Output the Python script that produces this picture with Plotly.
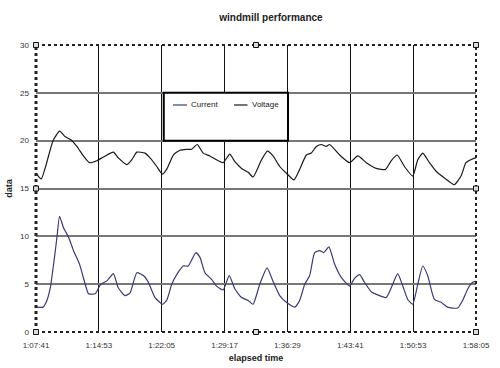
import plotly.graph_objects as go

# elapsed seconds since 1:07:41
voltage_t = [0, 36, 117, 162, 201, 240, 281, 326, 368, 418, 464, 532, 566, 624, 658, 693,
             749, 784, 830, 868, 898, 944, 989, 1035, 1070, 1108, 1149, 1195, 1241, 1286,
             1332, 1367, 1413, 1458, 1492, 1550, 1591, 1629, 1675, 1721, 1773, 1812, 1858,
             1892, 1927, 1961, 1995, 2018, 2087, 2155, 2212, 2270, 2338, 2402, 2441, 2482,
             2532, 2589, 2624, 2658, 2704, 2750, 2807, 2875, 2921, 2955, 3001, 3024]
voltage_v = [16.6, 16.0, 20.0, 21.0, 20.4, 20.1, 19.4, 18.4, 17.7, 17.9, 18.3, 18.8, 18.2,
             17.5, 18.0, 18.8, 18.7, 18.2, 17.3, 16.5, 17.0, 18.5, 19.0, 19.1, 19.1, 19.6,
             18.7, 18.4, 18.0, 17.7, 18.6, 17.8, 17.1, 16.7, 16.2, 18.0, 18.9, 18.4, 17.3,
             16.6, 15.9, 17.0, 18.5, 18.7, 19.4, 19.6, 19.4, 19.6, 18.5, 17.7, 18.4, 17.7,
             17.1, 17.0, 17.9, 18.5, 17.3, 16.3, 18.0, 18.7, 17.7, 16.8, 16.1, 15.4, 16.3,
             17.7, 18.1, 18.2]

current_t = [0, 48, 75, 98, 121, 144, 162, 189, 224, 258, 299, 338, 361, 407, 441, 491, 532,
             566, 612, 647, 693, 738, 772, 818, 871, 898, 933, 967, 1012, 1046, 1099, 1127,
             1161, 1207, 1241, 1286, 1328, 1367, 1413, 1458, 1492, 1538, 1588, 1629, 1675,
             1721, 1778, 1812, 1847, 1881, 1915, 1950, 1977, 2013, 2052, 2098, 2155, 2189,
             2224, 2258, 2304, 2361, 2407, 2441, 2486, 2521, 2555, 2589, 2624, 2658, 2692,
             2738, 2784, 2829, 2898, 2932, 2967, 3001, 3024]
current_v = [2.6, 2.6, 3.3, 4.6, 7.1, 9.9, 12.1, 10.9, 9.9, 8.5, 7.1, 5.0, 4.0, 4.0, 4.9, 5.4,
             6.1, 4.6, 3.8, 4.1, 6.2, 5.9, 5.2, 3.6, 2.9, 3.3, 5.0, 6.0, 6.9, 6.9, 8.3, 7.8,
             6.2, 5.5, 4.8, 4.4, 5.9, 4.5, 3.6, 3.3, 2.9, 5.0, 6.7, 5.3, 3.8, 3.1, 2.6, 3.3,
             5.0, 5.9, 8.3, 8.5, 8.3, 8.9, 7.1, 5.7, 4.8, 5.6, 6.0, 5.2, 4.2, 3.8, 3.6, 4.6,
             6.1, 4.8, 3.4, 2.9, 5.0, 6.9, 5.9, 3.4, 3.1, 2.6, 2.5, 3.3, 4.5, 5.2, 5.3]

tick_vals = [0, 432, 864, 1296, 1728, 2160, 2592, 3024]
tick_text = ["1:07:41", "1:14:53", "1:22:05", "1:29:17", "1:36:29", "1:43:41", "1:50:53", "1:58:05"]

series_names = ["Current", "Voltage"]
series_colors = ["#3a3a74", "#1a1a1a"]

FONT = "Liberation Sans, Arial, sans-serif"
L, T, W, H = 36, 45, 440, 287


def px(x):
    return (x - L) / W


def py(y):
    return (T + H - y) / H


fig = go.Figure()
fig.add_trace(go.Scatter(x=current_t, y=current_v, name=series_names[0], mode="lines", showlegend=False,
                         line=dict(color=series_colors[0], width=1.2, shape="spline", smoothing=0.5)))
fig.add_trace(go.Scatter(x=voltage_t, y=voltage_v, name=series_names[1], mode="lines", showlegend=False,
                         line=dict(color=series_colors[1], width=1.2, shape="spline", smoothing=0.5)))

shapes = []
annotations = []
# legend box (white, covers grid)
shapes.append(dict(type="rect", xref="x", yref="y", x0=878, x1=1732, y0=20, y1=25,
                   fillcolor="white", line=dict(color="black", width=2), layer="above"))
# legend entries
for (lx0, lx1, tx), name, col in zip([(173, 187, 189), (234, 247.5, 249.5)], series_names, series_colors):
    shapes.append(dict(type="line", xref="paper", yref="paper", x0=px(lx0), x1=px(lx1),
                       y0=py(105), y1=py(105), line=dict(color=col, width=1.2), layer="above"))
    annotations.append(dict(xref="paper", yref="paper", x=px(tx), y=py(105), xanchor="left",
                            yanchor="middle", text=name, showarrow=False,
                            font=dict(family=FONT, size=8, color="#222")))
# dotted frame
for (x0, y0, x1, y1, w) in [(0, 0, 0, 1, 3), (0, 0, 1, 0, 2), (0, 1, 1, 1, 2), (1, 0, 1, 1, 2)]:
    shapes.append(dict(type="line", xref="paper", yref="paper", x0=x0, y0=y0, x1=x1, y1=y1,
                       line=dict(color="#222", width=w, dash="dot"), layer="above"))
# selection handles
for hx, hy in [(0, 0), (0.5, 0), (1, 0), (0, 0.5), (1, 0.5), (0, 1), (0.5, 1), (1, 1)]:
    shapes.append(dict(type="rect", xref="paper", yref="paper", xsizemode="pixel", ysizemode="pixel",
                       xanchor=hx, yanchor=hy, x0=-2.5, x1=2.5, y0=-2.5, y1=2.5,
                       fillcolor="#ddd", line=dict(color="#111", width=1), layer="above"))

fig.update_layout(
    width=500, height=368,
    margin=dict(l=L, r=500 - L - W, t=T, b=368 - T - H, autoexpand=False),
    paper_bgcolor="white", plot_bgcolor="white",
    font=dict(family=FONT, size=8, color="#333"),
    title=dict(text="<b>windmill performance</b>", x=px(271), xref="paper", xanchor="center",
               y=1 - 17 / 368, yanchor="middle",
               font=dict(family=FONT, size=10, color="#222")),
    showlegend=False,
    shapes=shapes,
    annotations=annotations,
)
fig.update_xaxes(range=[0, 3024], tickvals=tick_vals, ticktext=tick_text, showgrid=True,
                 gridcolor="#111", gridwidth=1, zeroline=False, showline=False, ticks="",
                 ticklabelstandoff=7, automargin=False,
                 tickfont=dict(size=8, color="#333"),
                 title=dict(text="<b>elapsed time</b>", font=dict(family=FONT, size=9, color="#222"), standoff=5))
fig.update_yaxes(range=[0, 30], dtick=5, showgrid=True, gridcolor="#777", gridwidth=1.5,
                 zeroline=False, showline=False, ticks="", tickfont=dict(size=8, color="#333"),
                 ticklabelstandoff=6, automargin=False,
                 title=dict(text="<b>data</b>", font=dict(family=FONT, size=9, color="#222"), standoff=5))

fig.write_html("out.html", config={"displayModeBar": False},
               post_script="document.body.style.margin='0';")
